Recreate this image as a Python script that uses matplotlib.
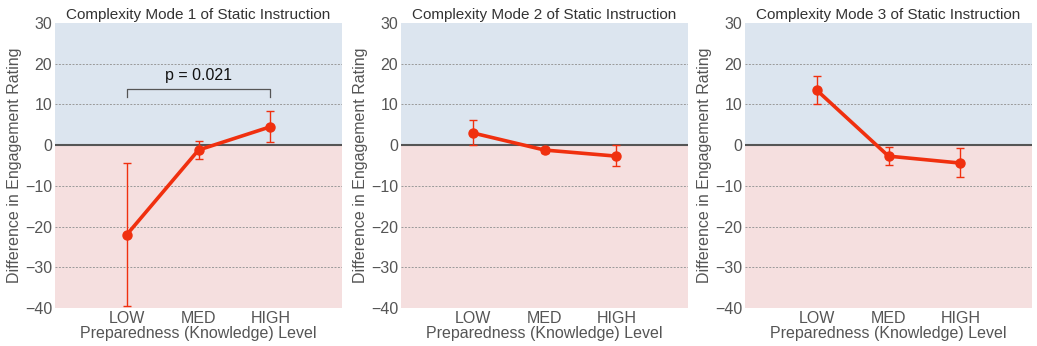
import matplotlib
matplotlib.use("Agg")
import matplotlib.pyplot as plt
import numpy as np

categories = ["LOW", "MED", "HIGH"]
titles = ["Complexity Mode 1 of Static Instruction",
          "Complexity Mode 2 of Static Instruction",
          "Complexity Mode 3 of Static Instruction"]
mode1_mean = [-22.0, -1.2, 4.5]
mode1_low = [-39.5, -3.5, 0.7]
mode1_high = [-4.3, 1.0, 8.3]
mode2_mean = [3.0, -1.2, -2.7]
mode2_low = [0.0, -2.0, -5.1]
mode2_high = [6.2, -0.5, 0.0]
mode3_mean = [13.5, -2.7, -4.4]
mode3_low = [10.0, -4.8, -7.8]
mode3_high = [17.0, -0.5, -0.8]
means = [mode1_mean, mode2_mean, mode3_mean]
lows = [mode1_low, mode2_low, mode3_low]
highs = [mode1_high, mode2_high, mode3_high]
p_text = "p = 0.021"
yticks = [-40, -30, -20, -10, 0, 10, 20, 30]

plt.rcParams['font.family'] = ['Arial', 'Liberation Sans', 'DejaVu Sans']
fig = plt.figure(figsize=(10.37, 3.46), dpi=100)
W, H = 1037, 346
lefts = [55, 401, 745]
line_color = '#f0300f'
tick_color = '#555555'
for i in range(3):
    ax = fig.add_axes([lefts[i] / W, 1 - 308 / H, 287 / W, 285 / H])
    x = np.arange(len(categories))
    ax.set_xlim(-1, 3)
    ax.set_ylim(-40, 30)
    ax.axhspan(0, 30, color='#dce5ef', zorder=0, lw=0)
    ax.axhspan(-40, 0, color='#f5dfdf', zorder=0, lw=0)
    for yv in [-30, -20, -10, 10, 20]:
        ax.axhline(yv, color='#999999', lw=0.7, ls=(0, (2, 1.5)), zorder=1)
    ax.axhline(0, color='#555555', lw=1.5, zorder=2)
    m = np.array(means[i]); lo = np.array(lows[i]); hi = np.array(highs[i])
    ax.errorbar(x, m, yerr=[m - lo, hi - m], fmt='none', ecolor=line_color,
                elinewidth=1.0, capsize=3, capthick=1.0, zorder=3)
    ax.plot(x, m, color=line_color, lw=2.6, marker='o', ms=6.5, zorder=4)
    ax.set_xticks(x)
    ax.set_xticklabels(categories)
    ax.set_yticks(yticks)
    ax.tick_params(axis='both', length=0, labelsize=11.5, colors=tick_color, pad=2)
    for s in ax.spines.values():
        s.set_visible(False)
    ax.set_title(titles[i], fontsize=11, color='#333333', pad=3)
    ax.set_xlabel("Preparedness (Knowledge) Level", fontsize=11.5, color=tick_color, labelpad=0)
    ax.set_ylabel("Difference in Engagement Rating", fontsize=11.5, color=tick_color, labelpad=2)
    if i == 0:
        ax.plot([0, 0, 2, 2], [11.8, 13.8, 13.8, 11.8], color='#555555', lw=0.9, zorder=3)
        ax.text(1, 17.2, p_text, ha='center', va='center', fontsize=11.5, color='#111111')

fig.savefig("out.png", dpi=100, facecolor='white')
